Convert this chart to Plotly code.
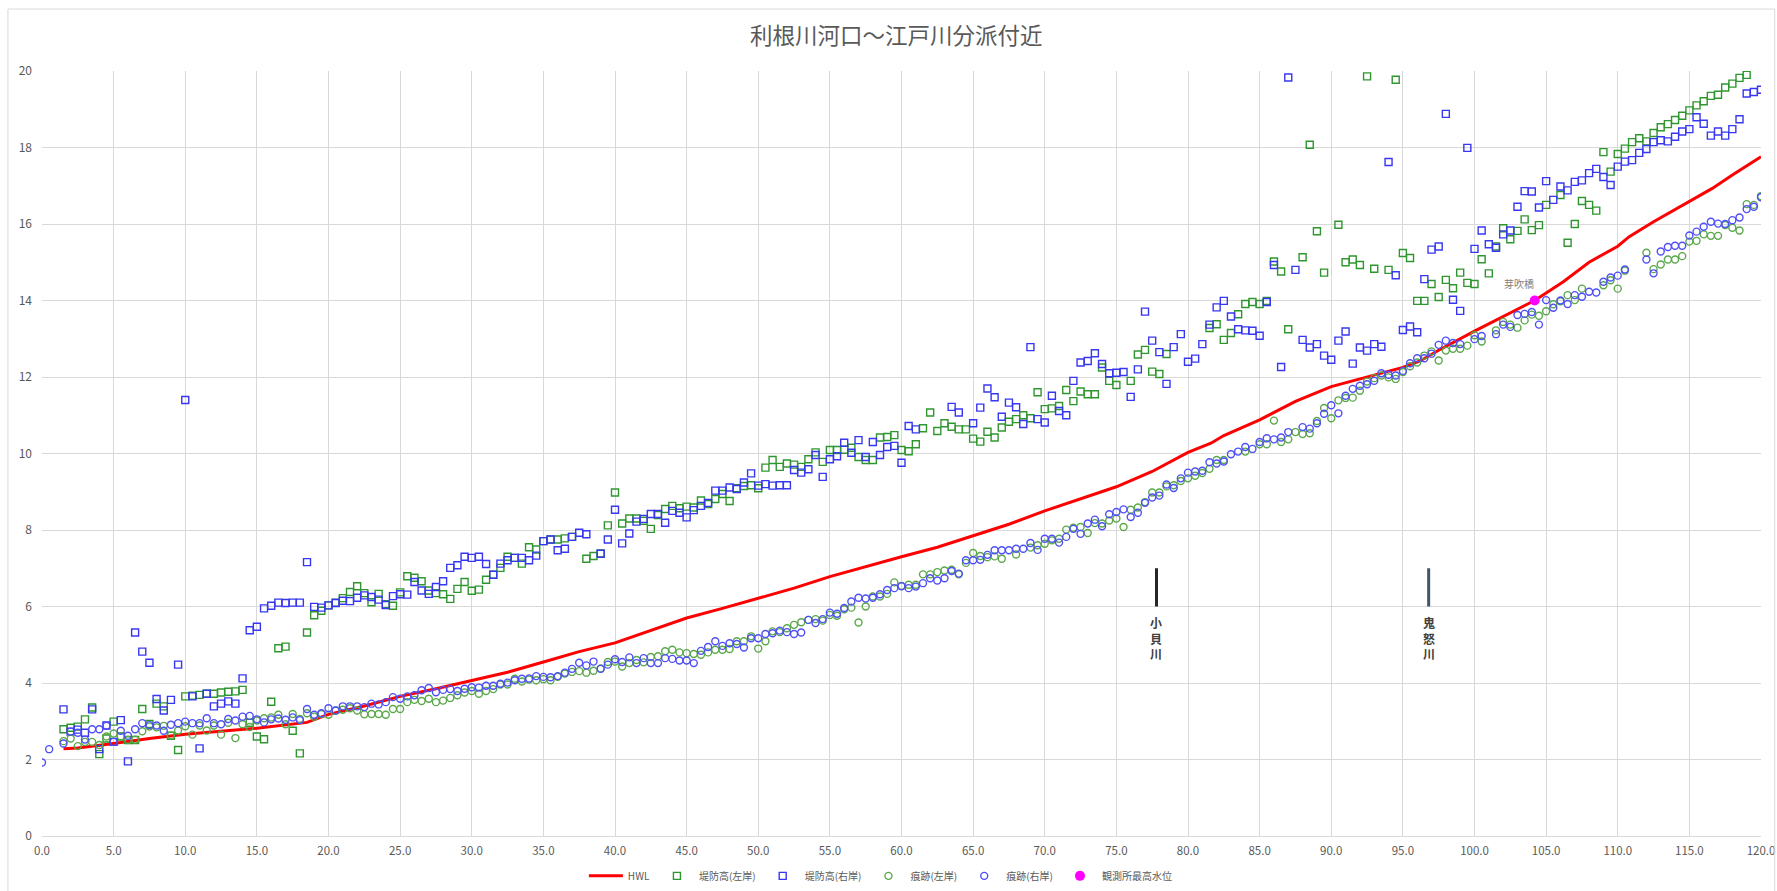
import plotly.graph_objects as go

# Distance markers along the river (km), every 0.5 km from the mouth
KM = [i * 0.5 for i in range(241)]

# 堤防高(左岸) levee crown height, left bank
levee_left = [
    None, None, None, 2.79, 2.83, 2.86, 3.05, 3.36, 2.14, 2.55, 2.99, 2.60, 2.51, 2.51, 3.32, 2.93, 3.46, 3.39, 2.62, 2.25,
    3.65, 3.67, 3.69, 3.72, 3.72, 3.75, 3.77, 3.78, 3.82, 2.96, 2.60, 2.53, 3.51, 4.91, 4.95, 2.75, 2.16, 5.32, 5.77, 5.89,
    6.03, 6.10, 6.22, 6.38, 6.53, 6.35, 6.11, 6.33, 6.06, 6.02, 6.37, 6.79, 6.75, 6.66, 6.42, 6.35, 6.32, 6.20, 6.46, 6.64,
    6.41, 6.44, 6.70, 6.83, 7.01, 7.30, 7.27, 7.12, 7.55, 7.49, 7.71, 7.75, 7.75, 7.78, 7.82, None, 7.25, 7.32, 7.39, 8.12,
    8.98, 8.17, 8.30, 8.30, 8.24, 8.03, 8.39, 8.55, 8.63, 8.57, 8.61, 8.59, 8.77, 8.68, 8.81, 8.94, 8.76, 9.09, 9.15, 9.17,
    9.09, 9.63, 9.83, 9.65, 9.74, 9.71, 9.65, 9.85, 10.03, 9.78, 10.09, 10.09, 10.10, 10.15, 9.91, 9.83, 9.83, 10.42, 10.43, 10.48,
    10.09, 10.06, 10.24, 10.66, 11.07, 10.59, 10.79, 10.70, 10.63, 10.63, 10.39, 10.31, 10.57, 10.42, 10.68, 10.83, 10.90, 11.00, 10.92, 11.60,
    11.16, 11.18, 11.24, 11.66, 11.37, 11.62, 11.55, 11.55, 12.25, 11.90, 11.79, None, 11.90, 12.59, 12.71, 12.14, 12.08, 12.60, None, None,
    None, None, None, 13.28, 13.38, 12.97, 13.15, 13.64, 13.91, 13.96, 13.91, 13.99, 15.02, 14.76, 13.25, None, 15.13, 18.07, 15.81, 14.73,
    None, 15.98, 15.00, 15.07, 14.93, 19.86, 14.83, None, 14.80, 19.77, 15.24, 15.11, 13.99, 13.99, 14.43, 14.09, 14.54, 14.32, 14.73, 14.46,
    14.43, 15.08, 14.71, 15.41, 15.89, 15.60, 15.82, 16.12, 15.84, 15.97, 16.50, None, 16.76, 15.51, 16.00, 16.60, 16.50, 16.35, 17.88, 17.37,
    17.83, 17.97, 18.14, 18.24, 18.16, 18.38, 18.53, 18.61, 18.72, 18.83, 18.97, 19.10, 19.21, 19.35, 19.38, 19.57, 19.67, 19.82, 19.90, None,
    None,
]

# 堤防高(右岸) levee crown height, right bank
levee_right = [
    None, None, None, 3.31, 2.73, 2.78, 2.70, 3.31, 2.27, 2.89, 2.46, 3.03, 1.95, 5.32, 4.82, 4.53, 3.58, 3.28, 3.56, 4.48,
    11.40, 3.65, 2.29, 3.72, 3.39, 3.46, 3.52, 3.46, 4.12, 5.38, 5.47, 5.95, 6.02, 6.10, 6.09, 6.10, 6.10, 7.16, 5.99, 5.97,
    6.03, 6.09, 6.15, 6.14, 6.23, 6.29, 6.25, 6.18, 6.04, 6.27, 6.32, 6.31, 6.64, 6.42, 6.33, 6.51, 6.66, 7.01, 7.08, 7.30,
    7.27, 7.30, 7.11, 6.83, 7.12, 7.21, 7.27, 7.27, 7.21, 7.33, 7.71, 7.75, 7.47, 7.51, 7.82, 7.93, 7.89, None, 7.38, 7.75,
    8.53, 7.65, 7.91, 8.22, 8.29, 8.42, 8.42, 8.19, 8.50, 8.45, 8.33, 8.52, 8.63, 8.71, 9.03, 9.03, 9.11, 9.07, 9.24, 9.48,
    9.16, 9.20, 9.16, 9.17, 9.17, 9.57, 9.50, 9.59, 9.96, 9.39, 9.85, 9.93, 10.28, 10.02, 10.35, 9.91, 10.30, 9.96, 10.17, 10.20,
    9.76, 10.72, 10.63, None, None, None, None, 11.22, 11.07, None, 10.79, 11.20, 11.70, 11.47, 10.96, 11.33, 11.21, 10.77, 12.78, 10.90,
    10.81, 11.51, 11.11, 11.00, 11.90, 12.38, 12.42, 12.62, 12.34, 12.10, 12.11, 12.13, 11.48, 12.20, 13.71, 12.95, 12.65, 11.82, 12.78, 13.12,
    12.40, 12.48, 12.86, 13.37, 13.82, 13.99, 13.58, 13.25, 13.22, 13.21, 13.08, 13.96, 14.93, 12.26, 19.83, 14.80, 12.97, 12.77, 12.86, 12.56,
    12.45, 12.95, 13.19, 12.35, 12.77, 12.69, 12.86, 12.79, 17.62, 14.66, 13.23, 13.32, 13.17, 14.56, 15.33, 15.41, 18.88, 14.02, 13.73, 17.99,
    15.35, 15.83, 15.47, 15.38, 15.73, 15.83, 16.45, 16.86, 16.85, 16.43, 17.12, 16.63, 16.98, 16.88, 17.10, 17.14, 17.33, 17.44, 17.23, 17.02,
    17.50, 17.63, 17.67, 17.86, 17.96, 18.14, 18.19, 18.16, 18.28, 18.42, 18.48, 18.79, 18.62, 18.31, 18.42, 18.31, 18.48, 18.74, 19.41, 19.45,
    19.51,
]

# 痕跡(左岸) high-water marks, left bank
mark_left = [
    None, None, None, 2.48, 2.55, 2.35, 2.46, 2.46, 2.38, 2.60, 2.68, 2.61, 2.51, 2.52, 2.74, 2.86, 2.84, 2.88, 2.63, 2.76,
    2.87, 2.65, 2.89, 2.76, 2.89, 2.65, 2.96, 2.56, 2.92, 2.85, 3.02, 3.08, 3.10, 3.17, 2.92, 3.19, 3.06, 3.21, 3.12, 3.19,
    3.17, 3.28, 3.30, 3.34, 3.28, 3.18, 3.19, 3.19, 3.17, 3.32, 3.32, 3.50, 3.56, 3.53, 3.59, 3.50, 3.54, 3.61, 3.68, 3.75,
    3.79, 3.72, 3.79, 3.84, 3.96, 3.96, 4.11, 4.04, 4.09, 4.07, 4.10, 4.07, 4.16, 4.25, 4.29, 4.31, 4.27, 4.32, 4.38, 4.55,
    4.56, 4.43, 4.52, 4.60, 4.54, 4.68, 4.70, 4.83, 4.87, 4.80, 4.78, 4.76, 4.74, 4.80, 4.87, 4.87, 4.89, 5.09, 5.09, 5.22,
    4.90, 5.09, 5.35, 5.33, 5.43, 5.52, 5.59, 5.65, 5.67, 5.63, 5.78, 5.76, 5.93, 5.97, 5.58, 6.00, 6.26, 6.26, 6.33, 6.63,
    6.54, 6.57, 6.57, 6.84, 6.84, 6.90, 6.94, 6.96, 6.84, 7.14, 7.40, 7.32, 7.29, 7.31, 7.25, None, 7.36, None, 7.54, 7.60,
    7.64, 7.73, 7.77, 8.01, 8.06, 8.08, 7.92, 8.18, 8.17, 8.25, 8.30, 8.08, 8.53, 8.59, 8.73, 8.98, 8.98, 9.14, 9.17, 9.28,
    9.35, 9.42, 9.49, 9.60, 9.83, 9.83, None, None, 10.05, None, 10.24, 10.24, 10.86, 10.30, 10.37, 10.56, 10.51, 10.53, 10.85, 11.19,
    10.92, 11.39, 11.45, 11.46, 11.64, 11.88, 11.97, 12.04, 11.99, 11.95, 12.13, 12.28, 12.38, 12.56, 12.67, 12.43, 12.69, 12.74, 12.74, 12.82,
    13.09, 12.93, None, 13.22, 13.44, 13.37, 13.29, 13.48, 13.63, 13.60, 13.72, 13.90, 13.98, 14.14, 14.01, 14.31, None, None, 14.40, 14.53,
    14.31, 14.78, None, None, 15.25, 14.82, 14.94, 15.07, 15.07, 15.16, 15.54, 15.56, 15.73, 15.69, 15.69, 15.97, 15.90, 15.83, 16.52, 16.50,
    16.73,
]

# 痕跡(右岸) high-water marks, right bank
mark_right = [
    1.92, 2.27, None, 2.42, 2.73, 2.70, 2.52, 2.79, 2.79, 2.88, 2.46, 2.75, 2.62, 2.79, 2.95, 2.90, 2.89, 2.75, 2.91, 2.95,
    2.99, 2.95, 2.95, 3.08, 2.95, 2.92, 3.06, 3.02, 3.12, 3.14, 3.05, 2.97, 3.05, 3.07, 3.04, 3.10, 3.03, 3.32, 3.17, 3.21,
    3.34, 3.28, 3.39, 3.39, 3.39, 3.37, 3.46, 3.44, 3.50, 3.63, 3.59, 3.65, 3.68, 3.81, 3.87, 3.76, 3.82, 3.84, 3.79, 3.85,
    3.89, 3.88, 3.93, 3.93, 3.98, 4.01, 4.07, 4.11, 4.12, 4.18, 4.16, 4.15, 4.18, 4.27, 4.37, 4.53, 4.46, 4.56, 4.37, 4.48,
    4.62, 4.55, 4.67, 4.52, 4.65, 4.52, 4.52, 4.65, 4.63, 4.59, 4.59, 4.52, 4.84, 4.94, 5.09, 4.97, 5.04, 5.02, 4.93, 5.17,
    5.17, 5.28, 5.30, 5.37, 5.33, 5.28, 5.32, 5.65, 5.57, 5.67, 5.84, 5.81, 5.96, 6.13, 6.23, 6.21, 6.23, 6.32, 6.43, 6.48,
    6.53, 6.48, 6.52, 6.61, 6.74, 6.68, 6.74, 6.93, 6.86, 7.21, 7.21, 7.22, 7.35, 7.47, 7.47, 7.47, 7.51, 7.51, 7.66, 7.48,
    7.77, 7.77, 7.67, 7.82, 8.03, 7.90, 8.17, 8.27, 8.10, 8.41, 8.47, 8.54, 8.34, 8.45, 8.71, 8.85, 8.90, 9.19, 9.10, 9.35,
    9.50, 9.53, 9.55, 9.77, 9.74, 9.79, 9.98, 10.05, 10.17, 10.12, 10.30, 10.40, 10.37, 10.42, 10.56, None, 10.69, 10.65, 10.79, 11.04,
    11.26, 11.05, 11.51, 11.69, 11.77, 11.81, 11.90, 12.10, 12.06, 12.04, 12.16, 12.36, 12.49, 12.49, 12.61, 12.84, 12.95, 12.89, 12.86, None,
    12.99, 13.07, None, 13.12, 13.37, 13.31, 13.62, 13.65, 13.70, 13.37, 14.01, 13.81, 14.00, 13.91, 14.14, 14.10, 14.23, 14.21, 14.49, 14.60,
    14.65, 14.81, None, None, 15.07, 14.71, 15.28, 15.40, 15.43, 15.43, 15.70, 15.80, 15.93, 16.06, 16.01, 16.00, 16.10, 16.17, 16.39, 16.45,
    16.70,
]

# HWL (planned high water level)
hwl_km = [1.5, 2.5, 5, 7.5, 10, 12.5, 15, 18.5, 20, 22.5, 25, 27.5, 30, 32.5, 35, 37.5, 40, 42.5, 45, 47.5,
          50, 52.5, 55, 57.5, 60, 62.5, 65, 67.5, 70, 72.5, 75, 77.5, 80, 81.6, 82.5, 85, 87.5, 90, 92.5, 95,
          96.2, 97.5, 100, 101.7, 104.2, 106.2, 108, 110, 110.8, 112.5, 115, 116.6, 118, 120]
hwl = [2.28, 2.30, 2.42, 2.55, 2.66, 2.74, 2.82, 2.97, 3.18, 3.40, 3.65, 3.85, 4.06, 4.28, 4.55, 4.82, 5.05, 5.38, 5.70, 5.95,
       6.21, 6.48, 6.78, 7.05, 7.30, 7.55, 7.86, 8.15, 8.50, 8.82, 9.13, 9.53, 10.03, 10.27, 10.47, 10.88, 11.36, 11.75, 12.01, 12.25,
       12.42, 12.70, 13.20, 13.53, 14.00, 14.49, 15.00, 15.42, 15.67, 16.06, 16.59, 16.93, 17.28, 17.76]

# 観測所最高水位 (gauge station peak level)
station_km = [104.2]
station_level = [14.0]
station_name = ["芽吹橋"]

# Tributary confluences
tributary_km = [77.8, 96.8]
tributary_name = ["小<br>貝<br>川", "鬼<br>怒<br>川"]
tributary_color = ["#262626", "#44546A"]

X_TICKS = [i * 5 for i in range(25)]
Y_TICKS = [i * 2 for i in range(11)]

FONT = "Noto Sans CJK JP"
GREY = "#595959"

fig = go.Figure()

fig.add_trace(go.Scatter(
    x=hwl_km, y=hwl, mode="lines", name="HWL",
    line=dict(color="#FF0000", width=3)))

fig.add_trace(go.Scatter(
    x=KM, y=levee_left, mode="markers", name="堤防高(左岸)",
    marker=dict(symbol="square-open", size=7, color="#2F962F", line=dict(width=1.4))))

fig.add_trace(go.Scatter(
    x=KM, y=levee_right, mode="markers", name="堤防高(右岸)",
    marker=dict(symbol="square-open", size=7, color="#3737F2", line=dict(width=1.4))))

fig.add_trace(go.Scatter(
    x=KM, y=mark_left, mode="markers", name="痕跡(左岸)",
    marker=dict(symbol="circle-open", size=7, color="#5AA84A", line=dict(width=1.4))))

fig.add_trace(go.Scatter(
    x=KM, y=mark_right, mode="markers", name="痕跡(右岸)",
    marker=dict(symbol="circle-open", size=7, color="#4F4FF7", line=dict(width=1.4))))

fig.add_trace(go.Scatter(
    x=station_km, y=station_level, mode="markers", name="観測所最高水位",
    marker=dict(symbol="circle", size=10, color="#FF00FF")))

for xk, ypk, name in zip(station_km, station_level, station_name):
    fig.add_annotation(x=xk, y=ypk, text=name, showarrow=False,
                       xanchor="center", yanchor="bottom", xshift=-16, yshift=8,
                       font=dict(family=FONT, size=10, color="#7F7F7F"))

for xk, name, col in zip(tributary_km, tributary_name, tributary_color):
    fig.add_shape(type="line", x0=xk, x1=xk, y0=6, y1=7,
                  line=dict(color=col, width=3))
    fig.add_annotation(x=xk, y=5.85, text="<b>" + name + "</b>", showarrow=False,
                       xanchor="center", yanchor="top",
                       font=dict(family=FONT, size=12, color="#404040"))

# Chart-area border
fig.add_shape(type="rect", xref="paper", yref="paper",
              x0=-0.0198, x1=1.008, y0=-0.075, y1=1.081,
              line=dict(color="#D9D9D9", width=1), fillcolor="rgba(0,0,0,0)")

fig.update_layout(
    width=1777, height=891,
    margin=dict(l=42, r=16, t=71, b=55, autoexpand=False),
    paper_bgcolor="white", plot_bgcolor="white",
    font=dict(family=FONT, color=GREY),
    title=dict(text="利根川河口～江戸川分派付近", x=0.497, xref="paper", y=0.96, yanchor="middle",
               font=dict(family=FONT, size=22.5, color=GREY)),
    showlegend=True,
    legend=dict(orientation="h", x=0.488, xanchor="center",
                yref="container", y=0.017, yanchor="middle",
                font=dict(family=FONT, size=10, color=GREY), itemwidth=34,
                bgcolor="rgba(0,0,0,0)"),
    xaxis=dict(range=[0, 120], tickvals=X_TICKS, ticktext=[f"{v:.1f}" for v in X_TICKS],
               showgrid=True, gridcolor="#D9D9D9", gridwidth=1,
               showline=True, linecolor="#D9D9D9", zeroline=False,
               tickfont=dict(family=FONT, size=11.5, color=GREY), ticks="",
               ticklabelstandoff=4),
    yaxis=dict(range=[0, 20], tickvals=Y_TICKS,
               showgrid=True, gridcolor="#D9D9D9", gridwidth=1,
               showline=False, zeroline=False,
               tickfont=dict(family=FONT, size=12, color=GREY), ticks="",
               ticklabelstandoff=9),
)

fig.write_html("out.html")
